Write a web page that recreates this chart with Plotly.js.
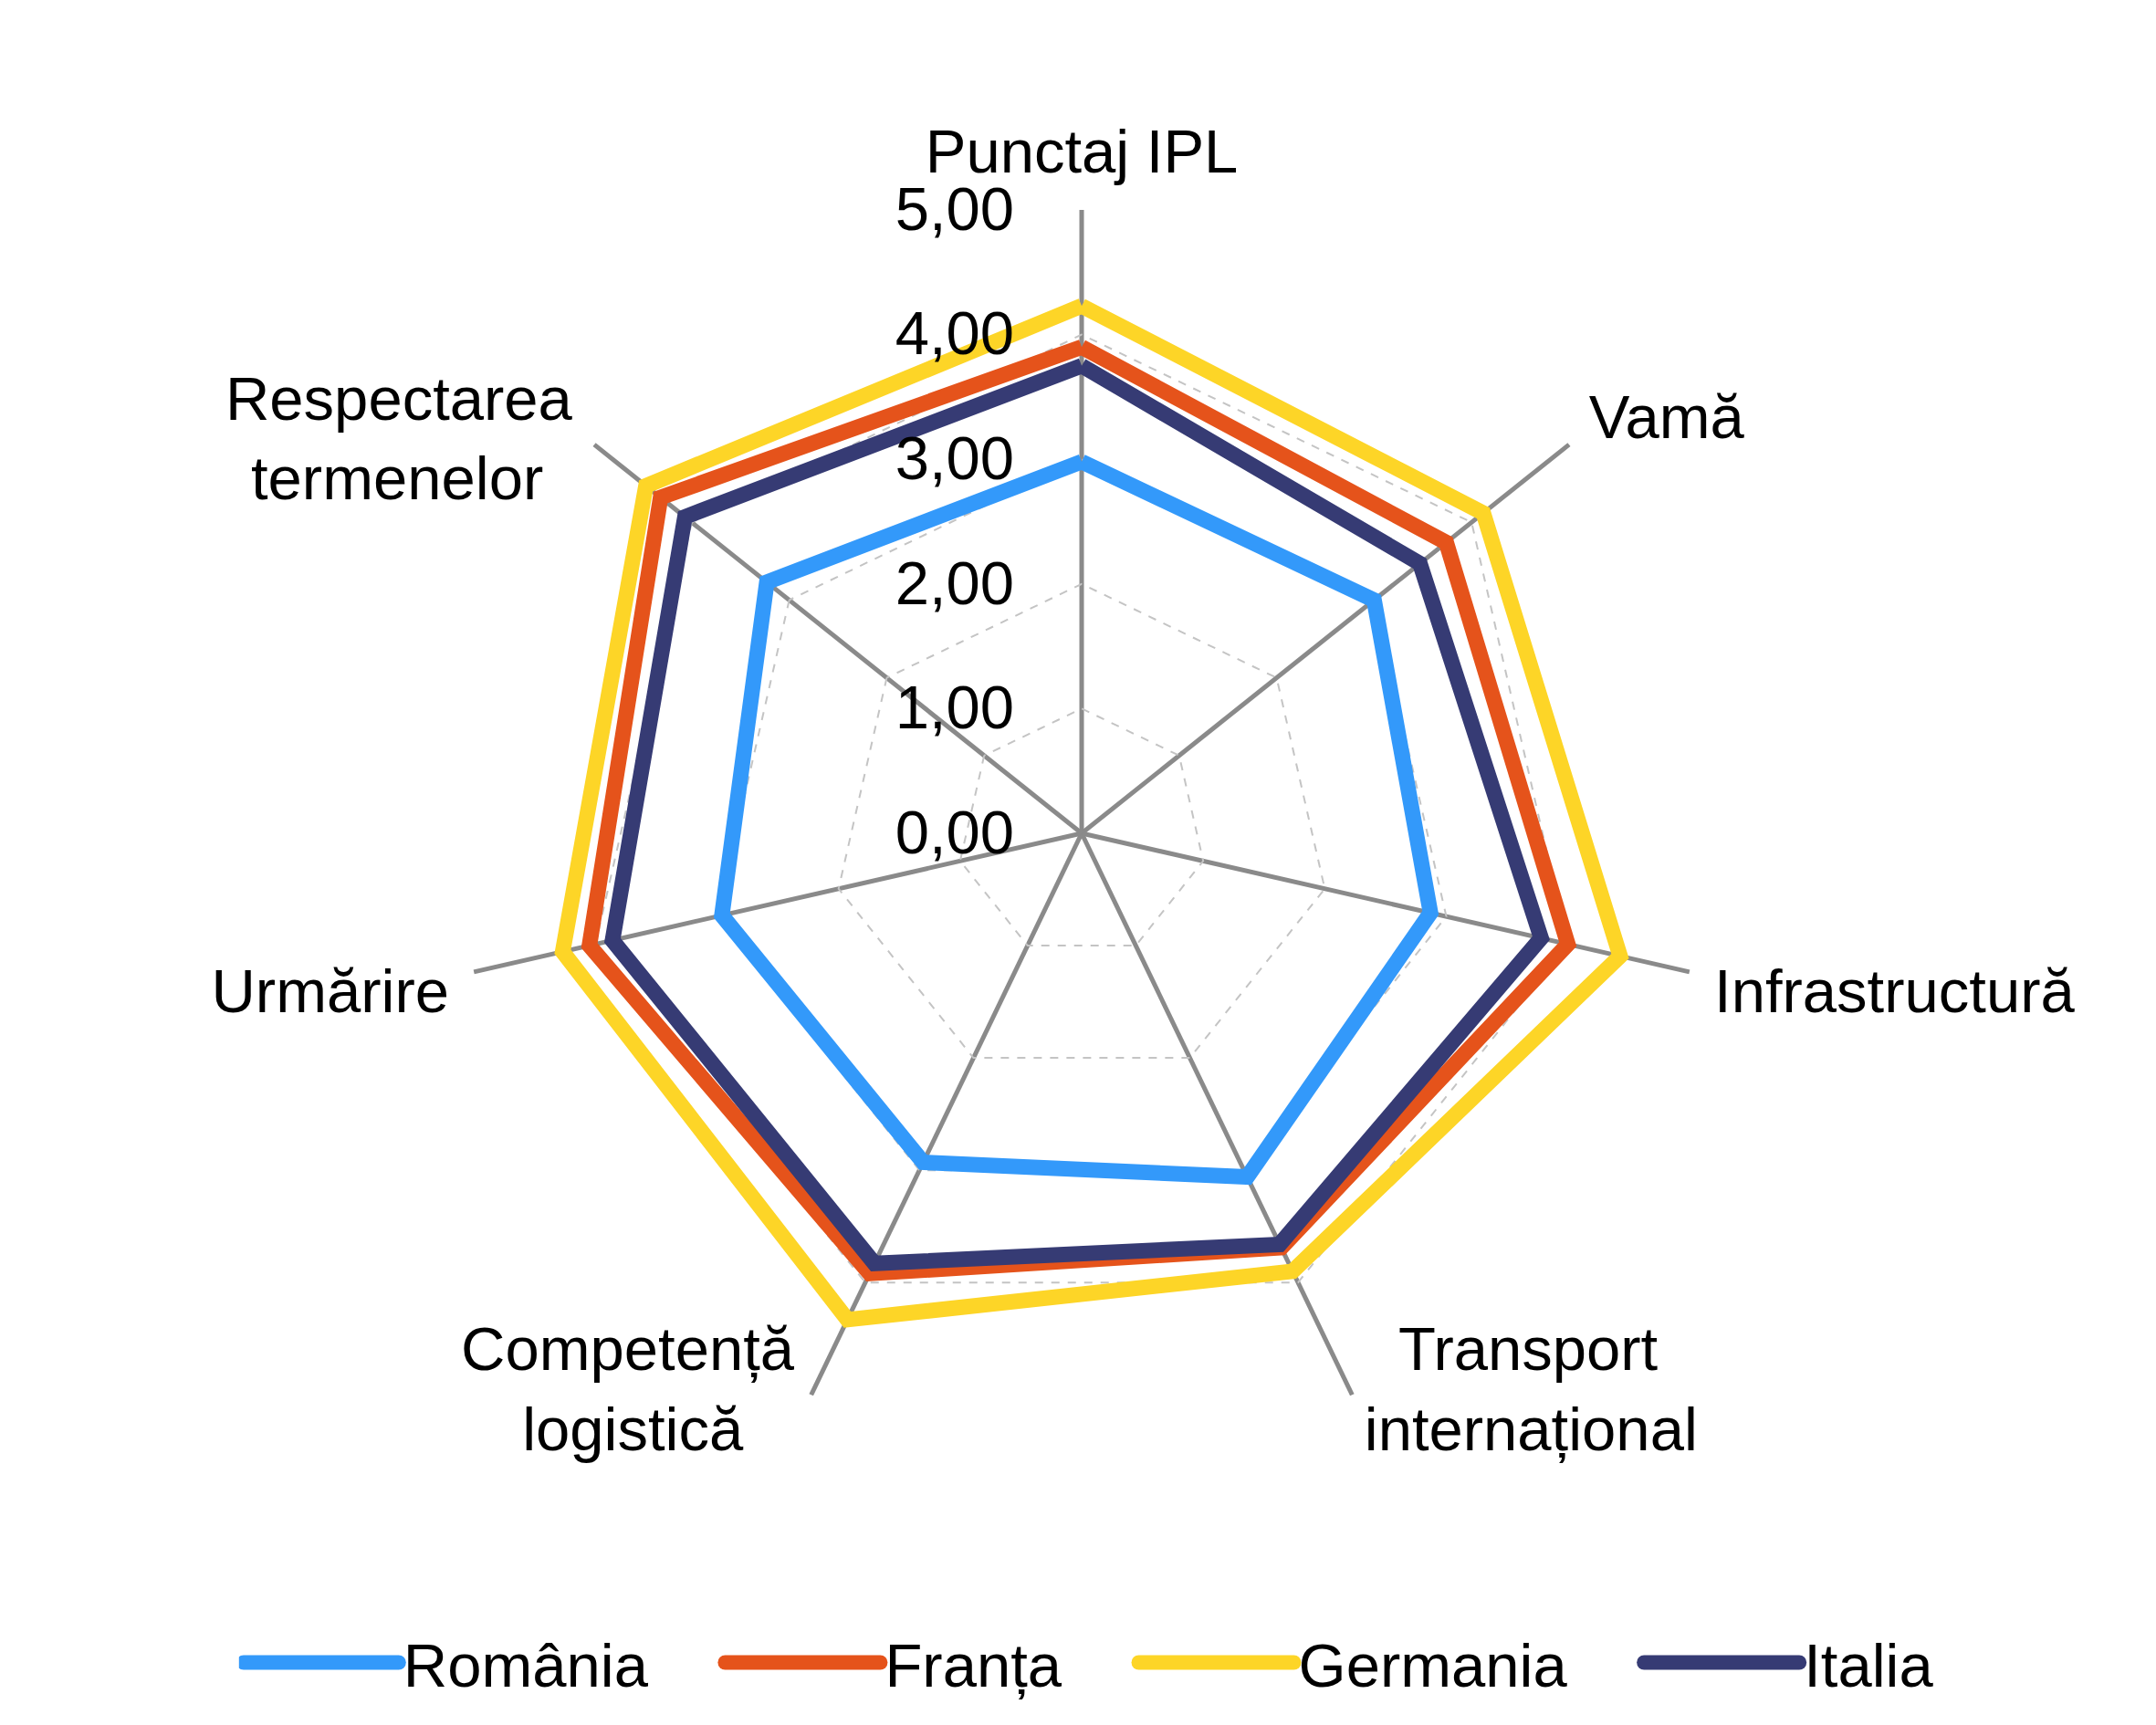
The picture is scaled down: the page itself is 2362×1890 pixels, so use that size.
<!DOCTYPE html>
<html>
<head>
<meta charset="utf-8">
<script src="https://cdn.plot.ly/plotly-3.0.1.min.js"></script>
<style>
  html, body { margin: 0; padding: 0; background: #fff; }
  #radar { width: 2362px; height: 1890px; }
</style>
</head>
<body>
<div id="radar"></div>
<script>
const categories = ["Punctaj IPL", "Vamă", "Infrastructură", "Transport internațional",
                    "Competență logistică", "Urmărire", "Respectarea termenelor"];
// category labels as printed round the chart (line breaks, padded so the lines look centred)
const categoryLabels = ["Punctaj IPL", "Vamă", "Infrastructură",
                        "\u2009\u00a0\u00a0Transport<br>\u2009internațional",
                        "Competență\u00a0<br>logistică\u00a0\u00a0\u00a0\u00a0",
                        "Urmărire",
                        "Respectarea\u00a0\u200a<br>termenelor\u00a0\u00a0\u00a0"];
const romania  = [2.98, 3.00, 2.87, 3.06, 2.93, 2.96, 3.23];
const franta   = [3.90, 3.74, 4.00, 3.69, 3.92, 4.05, 4.32];
const germania = [4.23, 4.12, 4.43, 3.90, 4.33, 4.27, 4.47];
const italia   = [3.75, 3.47, 3.78, 3.66, 3.83, 3.86, 4.07];
const radialTicks = [0, 1, 2, 3, 4, 5];
const radialMax = 5;

// how each category label is placed: on the angular axis, or beside the spoke end
const labelSide = ["axis", "axis", "axis", "middle right", "middle left", "axis", "middle left"];

const fontFam = "'Liberation Sans', Arial, sans-serif";
const FS = 67;
const legendGap = "\u00a0\u00a0\u00a0\u00a0";

function closed(arr) { return arr.concat([arr[0]]); }

function serie(name, vals, color, last) {
    return {
        type: "scatterpolar",
        mode: "lines",
        name: last ? name : name + legendGap,
        r: closed(vals),
        theta: closed(categories),
        line: { color: color, width: 17 },
        hoverinfo: "skip"
    };
}

const sideIdx = labelSide.map(function (s, i) { return s === "axis" ? -1 : i; })
                         .filter(function (i) { return i >= 0; });

const data = [
    serie("România", romania, "#3399FA"),
    serie("Franța", franta, "#E5531B"),
    serie("Germania", germania, "#FDD527"),
    serie("Italia", italia, "#363B74", true),
    {
        type: "scatterpolar",
        mode: "text",
        r: sideIdx.map(function () { return radialMax; }),
        theta: sideIdx.map(function (i) { return categories[i]; }),
        text: sideIdx.map(function (i) { return categoryLabels[i]; }),
        textposition: sideIdx.map(function (i) { return labelSide[i]; }),
        textfont: { family: fontFam, size: FS, color: "#000" },
        cliponaxis: false,
        showlegend: false,
        hoverinfo: "skip"
    }
];

const layout = {
    width: 2362,
    height: 1890,
    margin: { l: 0, r: 0, t: 0, b: 0 },
    paper_bgcolor: "#ffffff",
    separators: ",.",
    font: { family: fontFam, size: FS, color: "#000" },
    showlegend: true,
    legend: {
        orientation: "h",
        x: 0.505,
        xanchor: "center",
        y: 0.036,
        yanchor: "middle",
        font: { family: fontFam, size: FS, color: "#000" },
        itemwidth: 170,
        traceorder: "normal"
    },
    polar: {
        domain: { x: [0.2125, 0.7909], y: [0.1556, 0.8783] },
        bgcolor: "rgba(0,0,0,0)",
        gridshape: "linear",
        radialaxis: {
            range: [0, radialMax],
            angle: 90,
            tickangle: 90,
            tickvals: radialTicks,
            tickformat: ".2f",
            side: "counterclockwise",
            ticks: "outside",
            ticklen: 50,
            tickcolor: "rgba(0,0,0,0)",
            showline: false,
            gridcolor: "#c4c4c4",
            gridwidth: 2,
            griddash: "dash",
            tickfont: { family: fontFam, size: FS, color: "#000" }
        },
        angularaxis: {
            direction: "clockwise",
            rotation: 90,
            showline: false,
            gridcolor: "#8a8a8a",
            gridwidth: 5,
            tickmode: "array",
            tickvals: categories,
            ticktext: categoryLabels.map(function (t, i) { return labelSide[i] === "axis" ? t : ""; }),
            ticks: "outside",
            ticklen: 14,
            tickcolor: "rgba(0,0,0,0)",
            tickfont: { family: fontFam, size: FS, color: "#000" }
        }
    }
};

Plotly.newPlot("radar", data, layout, { staticPlot: true }).then(function (gd) {
    // legend samples: thick, rounded like the chart lines
    gd.querySelectorAll(".legendlines path").forEach(function (p) {
        p.style.strokeWidth = "16px";
        p.style.strokeLinecap = "round";
    });
});
</script>
</body>
</html>
